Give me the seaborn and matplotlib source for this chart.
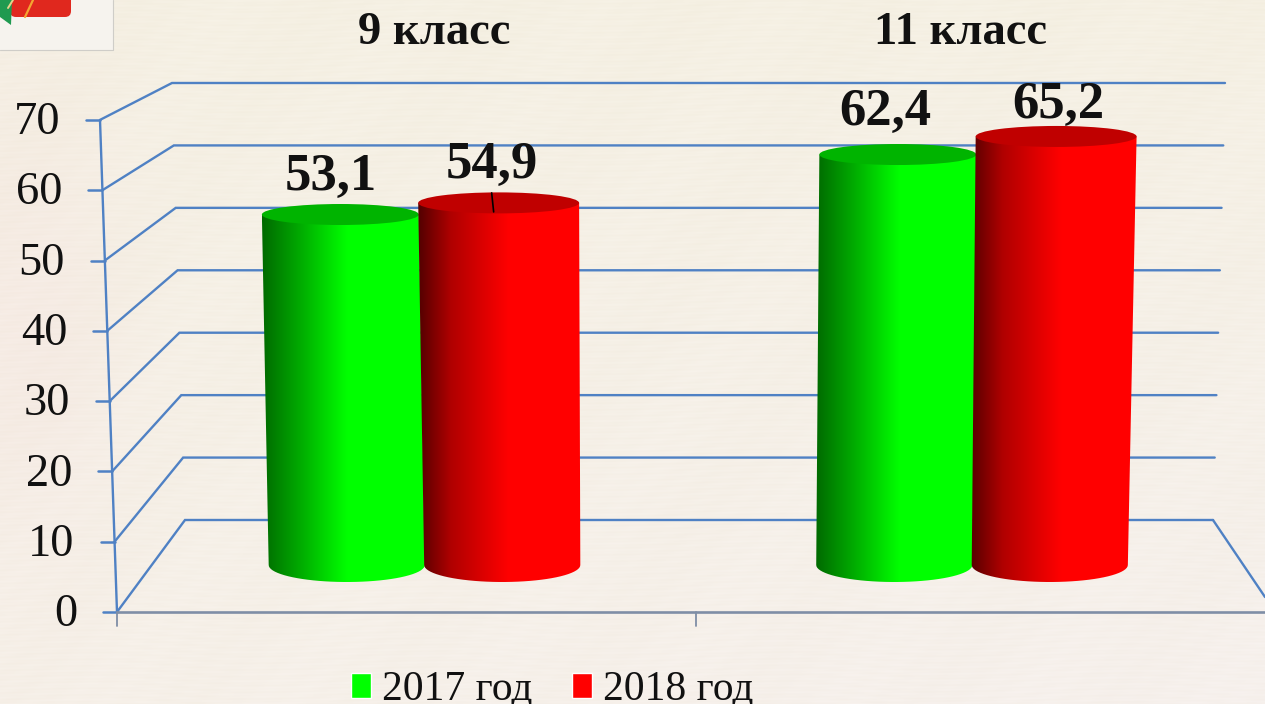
import numpy as np
import pandas as pd
import seaborn as sns
import matplotlib
matplotlib.use('Agg')
from matplotlib import pyplot as plt
from matplotlib.colors import LinearSegmentedColormap
from matplotlib.patches import Ellipse, PathPatch, Polygon, Rectangle, FancyBboxPatch
from matplotlib.path import Path

classes = ['9 класс', '11 класс']
years = ['2017 год', '2018 год']
values_2017 = [53.1, 62.4]
values_2018 = [54.9, 65.2]
y_ticks = [0, 10, 20, 30, 40, 50, 60, 70]

W, H = 1265, 704
# bars sit halfway down the fake 3d floor
BASE_PX, PX_PER_VAL = 557, 6.45
CAT0_PX, PX_PER_CAT = 422, 552.5

sns.set_theme(style='white')
plt.rcParams['font.family'] = ['Liberation Serif', 'DejaVu Serif']

df = pd.DataFrame({
    'klass': classes * 2,
    'year': [years[0]] * 2 + [years[1]] * 2,
    'value': values_2017 + values_2018,
})

fig = plt.figure(figsize=(W / 100, H / 100), dpi=100)

# frame axes, works in picture pixels
fr = fig.add_axes([0, 0, 1, 1])
fr.set_xlim(0, W)
fr.set_ylim(H, 0)
fr.axis('off')

# paper background
xx, yy = np.meshgrid(np.linspace(0, 1, 1265), np.linspace(0, 1, 704))
tex = (np.sin(yy * 610 + np.sin(xx * 23) * 5) * 0.7 + np.sin(yy * 1370 + xx * 37) * 0.6
       + np.sin(xx * 211 + yy * 129) * 0.4 + np.sin(xx * 43 + yy * 17) * 0.5)
bg = np.zeros(xx.shape + (3,))
bg[..., 0] = 245 + 0.8 * tex + 1 * yy
bg[..., 1] = 240 + 1.0 * tex - 0 * yy
bg[..., 2] = 227 + 1.6 * tex + 5 * yy + 4 * xx * yy
pink = np.exp(-((xx - 0.02) ** 2 / 0.006 + (yy - 0.45) ** 2 / 0.12))
bg[..., 1] -= 5 * pink
bg[..., 2] -= 2 * pink
fr.imshow(np.clip(bg, 0, 255) / 255, extent=(0, W, H, 0), aspect='auto', zorder=0,
          interpolation='bilinear')
fr.set_xlim(0, W)
fr.set_ylim(H, 0)

# logo corner
fr.add_patch(Rectangle((0, 0), 113, 50, fc='#f6f3ee', ec='none', zorder=1))
fr.plot([0, 113, 113], [50, 50, 0], color='#cfcdc8', lw=0.8, zorder=1)
fr.add_patch(FancyBboxPatch((10, -20), 61, 37, boxstyle='round,pad=0,rounding_size=6',
                            fc='#e0281e', ec='none', zorder=2))
fr.add_patch(Polygon([(0, 0), (12, 0), (11, 25), (0, 17)], fc='#1f9a50', ec='none', zorder=3))
fr.plot([25, 33], [17, 0], color='#f4a531', lw=1.6, zorder=3)
fr.plot([8, 13], [8, 0], color='#e8d28a', lw=1.4, zorder=3)

BLUE = '#4f81c4'
for v in y_ticks:
    t = v / 70
    fx, fy = 117 - 17 * t, 612 - 7.03 * v
    bx, by = 185 - 13 * t, 520 - 6.243 * v
    rx = 1213 + 12 * t
    fr.plot([fx, bx, rx], [fy, by, by], color=BLUE, lw=1.7, zorder=2, solid_joinstyle='miter')
    fr.plot([fx - 14, fx], [fy, fy], color=BLUE, lw=1.8, zorder=2)
    fr.text(fx - 40, fy + 3, str(v), ha='right', va='center', fontsize=33.5, color='#111111')
fr.plot([117, 100], [612, 120], color=BLUE, lw=1.7, zorder=2)
fr.plot([1213, 1265], [520, 597], color=BLUE, lw=1.7, zorder=2)
fr.plot([117, 1265], [612, 612], color='#7f8ea6', lw=1.9, zorder=2)
for tx in [117, 696]:
    fr.plot([tx, tx], [612, 626], color='#7f8ea6', lw=1.3, zorder=2)

for name, cx in zip(classes, [434, 960]):
    fr.text(cx, 44, name, ha='center', va='baseline', fontsize=33.5, fontweight='bold', color='#111111')

# bars
ax = fig.add_axes([0, 0, 1, 1], zorder=2)
ax.patch.set_visible(False)
sns.barplot(data=df, x='klass', y='value', hue='year', hue_order=years,
            palette=['#00ff00', '#ff0000'], saturation=1, width=0.568, gap=0,
            ax=ax)
ax.set_xlim((0 - CAT0_PX) / PX_PER_CAT, (W - CAT0_PX) / PX_PER_CAT)
ax.set_ylim((BASE_PX - H) / PX_PER_VAL, BASE_PX / PX_PER_VAL)
ax.set_xticks([])
ax.set_yticks([])
ax.set_xlabel('')
ax.set_ylabel('')
sns.despine(ax=ax, left=True, bottom=True)

sns.move_legend(ax, 'lower left', bbox_to_anchor=(351 / W, -5 / H), ncol=2, frameon=False,
                title=None, fontsize=30, handlelength=0.48, handleheight=0.53,
                handletextpad=0.26, columnspacing=0.96, borderpad=0, borderaxespad=0,
                labelcolor='#111111')

cmaps = [
    LinearSegmentedColormap.from_list('g', [(0, '#006a00'), (0.25, '#00b000'), (0.52, '#00ff00'), (1, '#00ff00')]),
    LinearSegmentedColormap.from_list('r', [(0, '#520000'), (0.2, '#b00000'), (0.55, '#ff0000'), (1, '#ff0000')]),
]
top_colors = ['#00b400', '#c00000']
# red tops flare out a little wider than the green ones, in pixels
top_extra = [0, 4]
# label nudges in pixels, one row per series
label_dx = [[-10, -12.5], [-6.5, 2.5]]
label_dy = [[24.5, 29.5], [25, 18]]

grad = np.linspace(0, 1, 256).reshape(1, -1)
for i, cont in enumerate(ax.containers):
    for j, bar in enumerate(cont):
        bar.set_visible(False)
        x0, w, v = bar.get_x(), bar.get_width(), bar.get_height()
        cx = x0 + w / 2
        lean = (CAT0_PX + cx * PX_PER_CAT - 700) * 0.018 / PX_PER_CAT
        top_x, bot_x = cx + lean / 2, cx - lean / 2
        top_w = w + top_extra[i] / PX_PER_CAT
        hw_b = w / 2 * 0.995
        low = -8 / PX_PER_VAL
        arc = 17 / PX_PER_VAL
        th = np.linspace(np.pi, 2 * np.pi, 40)
        pts = [(top_x - top_w / 2, v)]
        pts += list(zip(bot_x + hw_b * np.cos(th), low + arc * np.sin(th)))
        pts += [(top_x + top_w / 2, v), (top_x - top_w / 2, v)]
        clip = PathPatch(Path(pts), transform=ax.transData, fc='none', ec='none')
        ax.add_patch(clip)
        im = ax.imshow(grad, cmap=cmaps[i], extent=(min(top_x, bot_x) - top_w / 2, max(top_x, bot_x) + top_w / 2, low - arc, v),
                       aspect='auto', zorder=3 + i, interpolation='bilinear')
        im.set_clip_path(clip)
        ax.add_patch(Ellipse((top_x, v), top_w, 21 / PX_PER_VAL, fc=top_colors[i], ec='none', zorder=3.5 + i))
        label = f'{v:.1f}'.replace('.', ',')
        ax.text(top_x + label_dx[i][j] / PX_PER_CAT, v + label_dy[i][j] / PX_PER_VAL, label,
                ha='center', va='baseline', fontsize=38, fontweight='bold', color='#111111', zorder=6)
        if label == '54,9':
            # leader line from the label to the bar top
            ax.plot([top_x - 7 / PX_PER_CAT, top_x - 5 / PX_PER_CAT],
                    [v + 10 / PX_PER_VAL, v - 9 / PX_PER_VAL], color='black', lw=1.2, zorder=6)

ax.set_xlim((0 - CAT0_PX) / PX_PER_CAT, (W - CAT0_PX) / PX_PER_CAT)
ax.set_ylim((BASE_PX - H) / PX_PER_VAL, BASE_PX / PX_PER_VAL)

fig.savefig('out.png', dpi=100)
